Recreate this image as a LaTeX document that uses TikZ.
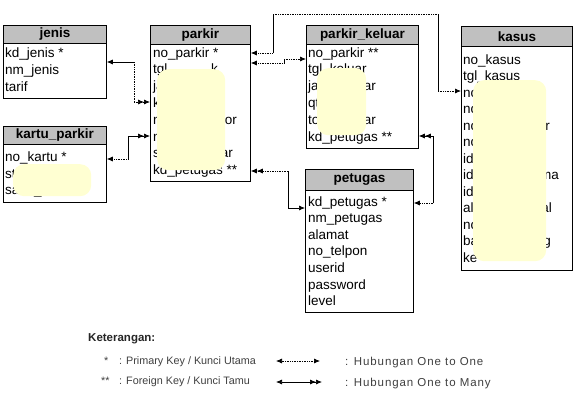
\documentclass[tikz,border=0pt]{standalone}
\usepackage{fontspec}
\setmainfont{Liberation Sans}
\newfontfamily\legwide[LetterSpace=8]{Liberation Sans}
\usetikzlibrary{arrows.meta}
\definecolor{hdrgray}{HTML}{C0C0C0}
\definecolor{blobyel}{HTML}{FFFFD2}
\definecolor{legtext}{HTML}{404040}
\begin{document}
\begin{tikzpicture}[x=1pt,y=-1pt,
  tbl/.style={draw=black, line width=0.8pt, inner sep=0pt, anchor=north west},
  hdr/.style={fill=hdrgray, draw=black, line width=0.8pt, inner sep=0pt, anchor=north west,
    font=\bfseries\fontsize{13.5}{16}\selectfont},
  fld/.style={anchor=base west, inner sep=0pt, font=\fontsize{13.5}{16}\selectfont},
  fldr/.style={anchor=base east, inner sep=0pt, font=\fontsize{13.5}{16}\selectfont},
  blob/.style={fill=blobyel, draw=none, rounded corners=11pt},
  conn/.style={line width=0.7pt},
  dconn/.style={line width=0.7pt, densely dotted},
  tip/.tip={Latex[length=6pt,width=5pt]},
  dtip/.tip={Latex[length=6pt,width=5pt] Latex[length=6pt,width=5pt]},
  leg/.style={anchor=base west, inner sep=0pt, text=legtext, font=\fontsize{10.8}{12}\selectfont},
  legw/.style={anchor=base west, inner sep=0pt, text=legtext, font=\legwide\fontsize{11.5}{13}\selectfont},
]
\useasboundingbox (0,0) rectangle (576,405);
\fill[white] (0,0) rectangle (576,405);

% ---------- jenis
\node[tbl, minimum width=103pt, minimum height=73pt] (jenis) at (3,25) {};
\node[hdr, minimum width=103pt, minimum height=18pt] (jenis-h) at (3,25) {jenis};
\node[fld] (jenis-1) at (5,57) {kd\_jenis *};
\node[fld] (jenis-2) at (5,74) {nm\_jenis};
\node[fld] (jenis-3) at (5,91) {tarif};

% ---------- kartu_parkir
\node[tbl, minimum width=103pt, minimum height=76pt] (kartu) at (3,126) {};
\node[hdr, minimum width=103pt, minimum height=18pt] (kartu-h) at (3,126) {kartu\_parkir};
\node[fld] (kartu-1) at (5,161.5) {no\_kartu *};
\node[fld] (kartu-2) at (5,178) {st};
\node[fld] (kartu-3) at (5,194.5) {sa};
\node[fld] (kartu-3b) at (34,194.5) {\_};
\node[blob, minimum width=78pt, minimum height=32pt, anchor=north west, inner sep=0pt] (kartu-blob) at (13,164) {};

% ---------- parkir
\node[tbl, minimum width=100pt, minimum height=156pt] (parkir) at (150,25) {};
\node[hdr, minimum width=100pt, minimum height=19pt] (parkir-h) at (150,25) {parkir};
\node[fld] (parkir-1) at (153,57) {no\_parkir *};
\node[fld] (parkir-2) at (153,73.8) {tgl};
\node[fldr] (parkir-2r) at (218,73.8) {k};
\node[fld] (parkir-3) at (153,90.6) {ja};
\node[fld] (parkir-4) at (153,107.4) {kd};
\node[fld] (parkir-5) at (153,124.2) {no};
\node[fldr] (parkir-5r) at (237,124.2) {tor};
\node[fld] (parkir-6) at (153,141) {no};
\node[fld] (parkir-7) at (153,157.8) {st};
\node[fldr] (parkir-7r) at (233,157.8) {ar};
\node[fld] (parkir-8) at (153,174.6) {kd\_petugas **};
\node[blob, minimum width=68pt, minimum height=101pt, anchor=north west, inner sep=0pt] (parkir-blob) at (157,69) {};

% ---------- parkir_keluar
\node[tbl, minimum width=112pt, minimum height=123pt] (pk) at (306,25) {};
\node[hdr, minimum width=112pt, minimum height=19pt] (pk-h) at (306,25) {parkir\_keluar};
\node[fld] (pk-1) at (308,57) {no\_parkir **};
\node[fld] (pk-2) at (308,73.8) {tgl\_keluar};
\node[fld] (pk-3) at (308,90.6) {ja};
\node[fldr] (pk-3r) at (376,90.6) {ar};
\node[fld] (pk-4) at (308,107.4) {qt};
\node[fld] (pk-5) at (308,124.2) {to};
\node[fldr] (pk-5r) at (376,124.2) {ar};
\node[fld] (pk-6) at (308,141) {kd\_petugas **};
\node[blob, minimum width=49pt, minimum height=67pt, anchor=north west, inner sep=0pt] (pk-blob) at (317,68) {};

% ---------- kasus
\node[tbl, minimum width=111pt, minimum height=244pt] (kasus) at (461,26) {};
\node[hdr, minimum width=111pt, minimum height=20pt] (kasus-h) at (461,26) {kasus};
\node[fld] (kasus-1) at (463,64) {no\_kasus};
\node[fld] (kasus-2) at (463,80.5) {tgl\_kasus};
\node[fld] (kasus-3) at (463,97) {no};
\node[fld] (kasus-4) at (463,113.5) {no};
\node[fld] (kasus-5) at (463,130) {no};
\node[fldr] (kasus-5r) at (550,130) {r};
\node[fld] (kasus-6) at (463,146.5) {no};
\node[fld] (kasus-7) at (463,163) {id};
\node[fld] (kasus-8) at (463,179.5) {id};
\node[fldr] (kasus-8r) at (559,179.5) {ma};
\node[fld] (kasus-9) at (463,196) {id};
\node[fld] (kasus-10) at (463,212.5) {al};
\node[fldr] (kasus-10r) at (552,212.5) {al};
\node[fld] (kasus-11) at (463,229) {no};
\node[fld] (kasus-12) at (463,245.5) {ba};
\node[fldr] (kasus-12r) at (551,245.5) {g};
\node[fld] (kasus-13) at (463,262) {ke};
\node[blob, minimum width=73pt, minimum height=181pt, anchor=north west, inner sep=0pt] (kasus-blob) at (473,80) {};

% ---------- petugas
\node[tbl, minimum width=108pt, minimum height=143pt] (petugas) at (305,169) {};
\node[hdr, minimum width=108pt, minimum height=21pt] (petugas-h) at (305,169) {petugas};
\node[fld] (petugas-1) at (308,206) {kd\_petugas *};
\node[fld] (petugas-2) at (308,222.6) {nm\_petugas};
\node[fld] (petugas-3) at (308,239.2) {alamat};
\node[fld] (petugas-4) at (308,255.8) {no\_telpon};
\node[fld] (petugas-5) at (308,272.4) {userid};
\node[fld] (petugas-6) at (308,289) {password};
\node[fld] (petugas-7) at (308,305.6) {level};

% ---------- connectors
% jenis -- parkir (one to many)
\coordinate (k1) at (134,62);
\coordinate (k2) at (134,102);
\draw[conn, tip-] (jenis.east |- k1) -- (k1);
\draw[dconn] (k1) -- (k2);
\draw[dconn, -dtip] (k2) -- (parkir.west |- k2);
% kartu_parkir -- parkir (one to many)
\coordinate (k3) at (128,159);
\coordinate (k4) at (128,136);
\draw[dconn, tip-] (kartu.east |- k3) -- (k3);
\draw[conn] (k3) -- (k4);
\draw[conn, -dtip] (k4) -- (parkir.west |- k4);
% parkir -- parkir_keluar (one to one)
\coordinate (k5) at (284,63);
\coordinate (k6) at (284,59);
\draw[dconn, tip-] (parkir.east |- k5) -- (k5);
\draw[conn] (k5) -- (k6);
\draw[dconn, -tip] (k6) -- (pk.west |- k6);
% parkir -- kasus (one to one)
\coordinate (k7) at (273,53);
\coordinate (k8) at (273,14);
\coordinate (k9) at (438,14);
\coordinate (k10) at (438,91);
\draw[dconn, tip-] (parkir.east |- k7) -- (k7);
\draw[conn] (k7) -- (k8);
\draw[dconn] (k8) -- (k9);
\draw[conn] (k9) -- (k10);
\draw[dconn, -tip] (k10) -- (kasus.west |- k10);
% petugas -- parkir (one to many)
\coordinate (k11) at (288,171);
\coordinate (k12) at (288,208);
\draw[dconn, dtip-] (parkir.east |- k11) -- (k11);
\draw[conn] (k11) -- (k12);
\draw[conn, -tip] (k12) -- (petugas.west |- k12);
% petugas -- parkir_keluar (one to many)
\coordinate (k13) at (433,136);
\coordinate (k14) at (433,203);
\draw[conn, dtip-] (pk.east |- k13) -- (k13);
\draw[conn] (k13) -- (k14);
\draw[dconn, -tip] (k14) -- (petugas.east |- k14);

% ---------- legend
\node[leg, text=black!85, font=\bfseries\fontsize{11.5}{13}\selectfont] (ket) at (88,341) {Keterangan:};
\node[leg] (pk-star) at (104,364) {*};
\node[leg] (pk-text) at (119,364) {: Primary Key / Kunci Utama};
\node[leg] (fk-star) at (101,384) {**};
\node[leg] (fk-text) at (119,384) {: Foreign Key / Kunci Tamu};
\coordinate (l1a) at (276,361);
\coordinate (l1b) at (320,361);
\draw[dconn, tip-tip] (l1a) -- (l1b);
\node[legw] (oo-text) at (345,365) {: Hubungan One to One};
\coordinate (l2a) at (276,382);
\coordinate (l2b) at (322,382);
\draw[conn, tip-dtip] (l2a) -- (l2b);
\node[legw] (om-text) at (345,386) {: Hubungan One to Many};
\end{tikzpicture}
\end{document}
